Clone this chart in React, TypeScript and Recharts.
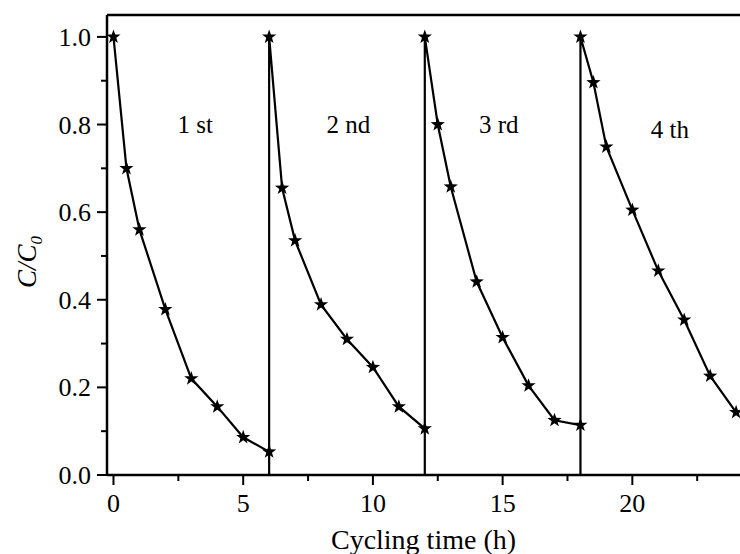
import { LineChart, Line, XAxis, YAxis, ReferenceLine, ReferenceDot } from 'recharts';

// C/C0
const cycle1Time = [0, 0.5, 1, 2, 3, 4, 5, 6];
const cycle1Ratio = [1.0, 0.7, 0.56, 0.378, 0.22, 0.156, 0.086, 0.053];
const cycle2Time = [6, 6.5, 7, 8, 9, 10, 11, 12];
const cycle2Ratio = [1.0, 0.655, 0.535, 0.389, 0.31, 0.246, 0.156, 0.106];
const cycle3Time = [12, 12.5, 13, 14, 15, 16, 17, 18];
const cycle3Ratio = [1.0, 0.8, 0.658, 0.441, 0.314, 0.204, 0.125, 0.114];
const cycle4Time = [18, 18.5, 19, 20, 21, 22, 23, 24];
const cycle4Ratio = [1.0, 0.896, 0.749, 0.605, 0.466, 0.354, 0.226, 0.143];

const cycleLabels = ['1 st', '2 nd', '3 rd', '4 th'];
const cycleLabelTime = [3.15, 9.05, 14.85, 21.45];
const cycleLabelRatio = [0.8, 0.8, 0.8, 0.79];

const xTicks = [0, 2.5, 5, 7.5, 10, 12.5, 15, 17.5, 20, 22.5];
const yTicks = [0, 0.1, 0.2, 0.3, 0.4, 0.5, 0.6, 0.7, 0.8, 0.9, 1.0];

const FONT = '"Liberation Serif", "Times New Roman", serif';

type Pt = { t: number; v: number; hidden?: boolean };

const cycles: [number[], number[]][] = [
    [cycle1Time, cycle1Ratio],
    [cycle2Time, cycle2Ratio],
    [cycle3Time, cycle3Ratio],
    [cycle4Time, cycle4Ratio],
];

// one continuous trace; each new cycle starts with a drop to zero (drawn as a vertical line, no marker)
const data: Pt[] = [];
cycles.forEach(([times, ratios], ci) => {
    if (ci > 0) data.push({ t: times[0], v: 0, hidden: true });
    times.forEach((t, i) => data.push({ t, v: ratios[i] }));
});

function starPoints(cx: number, cy: number, ro: number, ri: number) {
    const pts: string[] = [];
    for (let i = 0; i < 10; i++) {
        const r = i % 2 === 0 ? ro : ri;
        const a = -Math.PI / 2 + (i * Math.PI) / 5;
        pts.push(`${cx + r * Math.cos(a)},${cy + r * Math.sin(a)}`);
    }
    return pts.join(' ');
}

const StarDot = (props: any) => {
    const { cx, cy, payload, index } = props;
    if (payload?.hidden || cx == null || cy == null) return <g key={`s-${index}`} />;
    return <polygon key={`s-${index}`} points={starPoints(cx, cy, 7.5, 3)} fill="#000" stroke="none" />;
};

const XTick = (props: any) => {
    const { x, y, payload } = props;
    const major = payload.value % 5 === 0;
    return (
        <g>
            <line x1={x} x2={x} y1={y} y2={y + (major ? 10 : 6)} stroke="#000" strokeWidth={2} />
            {major && (
                <text x={x} y={y + 37} textAnchor="middle" fontFamily={FONT} fontSize={26} fill="#000">
                    {payload.value}
                </text>
            )}
        </g>
    );
};

const YTick = (props: any) => {
    const { x, y, payload } = props;
    const major = Math.round(payload.value * 10) % 2 === 0;
    return (
        <g>
            <line x1={x} x2={x - (major ? 10 : 6)} y1={y} y2={y} stroke="#000" strokeWidth={2} />
            {major && (
                <text x={x - 16} y={y + 9} textAnchor="end" fontFamily={FONT} fontSize={26} fill="#000">
                    {payload.value.toFixed(1)}
                </text>
            )}
        </g>
    );
};

const YTitle = (props: any) => {
    const vb = props.viewBox || { y: 15, height: 460 };
    const cy = vb.y + vb.height / 2 + 17;
    return (
        <text
            transform={`translate(36,${cy}) rotate(-90)`}
            textAnchor="middle"
            fontFamily={FONT}
            fontSize={27}
            fontStyle="italic"
            fill="#000"
        >
            C/C
            <tspan dy={6} fontSize={17}>0</tspan>
        </text>
    );
};

export default function App() {
    return (
        <div>
            <style>{'body{margin:0;background:#fff}'}</style>
            <LineChart width={740} height={554} data={data} margin={{ top: 15, right: 0, bottom: 0, left: 0 }}>
                <XAxis
                    dataKey="t"
                    type="number"
                    domain={[-0.25, 24.15]}
                    ticks={xTicks}
                    interval={0}
                    allowDataOverflow
                    height={79}
                    tickSize={0}
                    tickMargin={0}
                    tickLine={false}
                    tick={<XTick />}
                    axisLine={{ stroke: '#000', strokeWidth: 2.5 }}
                    label={{
                        value: 'Cycling time (h)',
                        position: 'insideBottom',
                        offset: 5,
                        style: { fontFamily: FONT, fontSize: 28, fill: '#000' },
                    }}
                />
                <YAxis
                    type="number"
                    domain={[0, 1.05]}
                    ticks={yTicks}
                    interval={0}
                    allowDataOverflow
                    width={107}
                    tickSize={0}
                    tickMargin={0}
                    tickLine={false}
                    tick={<YTick />}
                    axisLine={{ stroke: '#000', strokeWidth: 2.5 }}
                    label={{ content: <YTitle /> }}
                />
                <ReferenceLine y={1.05} stroke="#000" strokeWidth={2.5} ifOverflow="visible" />
                {cycleLabels.map((lab, i) => (
                    <ReferenceDot
                        key={lab}
                        x={cycleLabelTime[i]}
                        y={cycleLabelRatio[i]}
                        r={0}
                        stroke="none"
                        fill="none"
                        label={{
                            value: lab,
                            position: 'center',
                            style: { fontFamily: FONT, fontSize: 25, fill: '#000' },
                        }}
                    />
                ))}
                <Line
                    type="linear"
                    dataKey="v"
                    stroke="#000"
                    strokeWidth={2.2}
                    dot={<StarDot />}
                    activeDot={false}
                    isAnimationActive={false}
                />
            </LineChart>
        </div>
    );
}
